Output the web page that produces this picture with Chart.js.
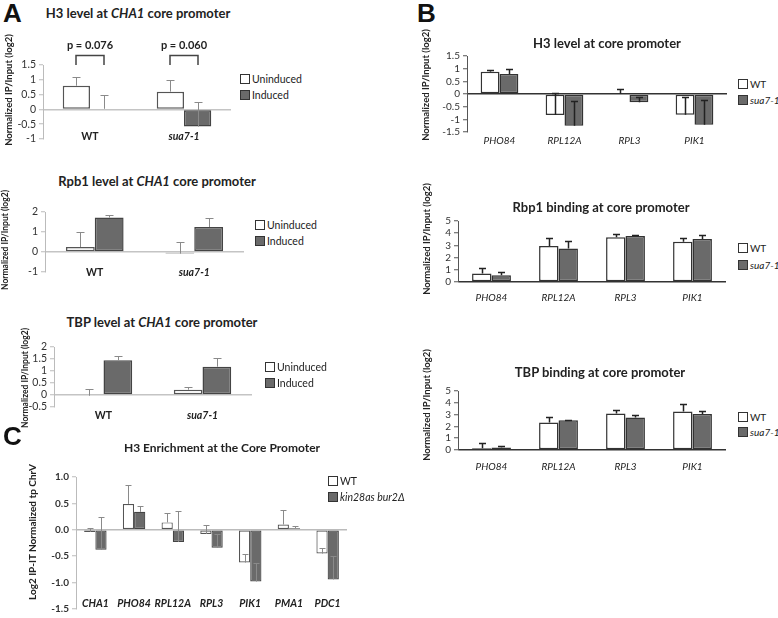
<!DOCTYPE html>
<html>
<head>
<meta charset="utf-8">
<script src="https://cdn.jsdelivr.net/npm/chart.js@4.4.1/dist/chart.umd.min.js"></script>
<style>
  body { margin: 0; background: #fff; }
  #fig { position: relative; width: 778px; height: 618px; overflow: hidden; font-family: Lato, 'Open Sans', sans-serif; color: #222; }
  #fig canvas { position: absolute; }
  .txt { position: absolute; white-space: nowrap; }
  .letter { font: bold 26px 'Liberation Sans', Arial, sans-serif; color: #111; }
  .ttl { font-weight: bold; font-size: 13px; transform: translate(-50%, -50%); }
  .ytl { font-weight: bold; font-size: 9.5px; transform: translate(-50%, -50%) rotate(-90deg); }
  .leg { font-size: 10.5px; transform: translateY(-50%); display: flex; align-items: center; }
  .leg .box { display: inline-block; width: 8px; height: 8px; border: 1px solid #333; margin-right: 2px; }
</style>
</head>
<body>
<div id="fig"></div>
<script>
// ---- panel A : CHA1 core promoter, uninduced vs induced ----
const strains = ['WT', 'sua7-1'];
const inductionNames = ['Uninduced', 'Induced'];

const h3ChaUninduced = [0.80, 0.60];
const h3ChaUninducedErr = [0.28, 0.40];
const h3ChaInduced = [0.02, -0.58];
const h3ChaInducedErr = [0.48, 0.83];
const h3ChaPvalues = ['p = 0.076', 'p = 0.060'];

const rpb1ChaUninduced = [0.25, -0.08];
const rpb1ChaUninducedErr = [0.75, 0.58];
const rpb1ChaInduced = [1.72, 1.25];
const rpb1ChaInducedErr = [0.12, 0.45];

const tbpChaUninduced = [-0.03, 0.22];
const tbpChaUninducedErr = [0.28, 0.10];
const tbpChaInduced = [1.45, 1.18];
const tbpChaInducedErr = [0.17, 0.37];

// ---- panel B : core promoters, WT vs sua7-1 ----
const genesB = ['PHO84', 'RPL12A', 'RPL3', 'PIK1'];
const strainNamesB = ['WT', 'sua7-1'];

const h3CoreWT = [0.88, -0.83, 0.01, -0.82];
const h3CoreWTErr = [0.06, 0.86, 0.17, 0.69];
const h3CoreSua = [0.79, -1.25, -0.33, -1.21];
const h3CoreSuaErr = [0.19, 0.99, 0.23, 0.99];

const rbp1CoreWT = [0.69, 2.95, 3.66, 3.30];
const rbp1CoreWTErr = [0.47, 0.69, 0.25, 0.28];
const rbp1CoreSua = [0.55, 2.75, 3.77, 3.52];
const rbp1CoreSuaErr = [0.28, 0.64, 0.09, 0.34];

const tbpCoreWT = [0.14, 2.33, 3.09, 3.26];
const tbpCoreWTErr = [0.42, 0.48, 0.34, 0.62];
const tbpCoreSua = [0.22, 2.53, 2.75, 3.06];
const tbpCoreSuaErr = [0.15, 0.05, 0.25, 0.25];

// ---- panel C : H3 enrichment, WT vs kin28as bur2 ----
const genesC = ['CHA1', 'PHO84', 'RPL12A', 'RPL3', 'PIK1', 'PMA1', 'PDC1'];
const strainNamesC = ['WT', 'kin28as bur2Δ'];
const h3EnrichWT = [-0.04, 0.49, 0.14, -0.08, -0.62, 0.10, -0.45];
const h3EnrichWTErr = [0.08, 0.36, 0.18, 0.17, 0.16, 0.27, 0.11];
const h3EnrichMut = [-0.38, 0.34, -0.23, -0.34, -0.98, 0.03, -0.94];
const h3EnrichMutErr = [0.63, 0.11, 0.58, 0.26, 0.35, 0.04, 0.45];

const fig = document.getElementById('fig');

function addText(x, y, html, cls) {
  const d = document.createElement('div');
  d.className = 'txt ' + cls;
  d.style.left = x + 'px';
  d.style.top = y + 'px';
  d.innerHTML = html;
  fig.appendChild(d);
  return d;
}

function addLegend(x, y, names, fill, gap, italic, size) {
  names.forEach((n, i) => {
    const d = addText(x, y + i * gap, '', 'leg');
    if (size) d.style.fontSize = size + 'px';
    const b = document.createElement('span');
    b.className = 'box';
    b.style.background = i === 0 ? '#fff' : fill;
    d.appendChild(b);
    const t = document.createElement('span');
    t.textContent = n;
    if (italic[i]) t.style.fontStyle = 'italic';
    d.appendChild(t);
  });
}

// plus-only error bars, like the Excel originals
const errorBars = {
  id: 'errorBars',
  afterDatasetsDraw(chart, args, opts) {
    const ctx = chart.ctx, y = chart.scales.y;
    ctx.save();
    ctx.strokeStyle = opts.color || '#333';
    ctx.lineWidth = opts.width || 1;
    chart.data.datasets.forEach((ds, i) => {
      chart.getDatasetMeta(i).data.forEach((bar, j) => {
        const v = ds.data[j], e = ds.errPlus[j];
        const x = Math.round(bar.x) + 0.5;
        const y0 = y.getPixelForValue(v), y1 = Math.round(y.getPixelForValue(v + e)) + 0.5;
        const c = (opts.cap || 6) / 2;
        ctx.beginPath();
        ctx.moveTo(x, y0);
        ctx.lineTo(x, y1);
        ctx.moveTo(x - c, y1);
        ctx.lineTo(x + c, y1);
        ctx.stroke();
      });
    });
    ctx.restore();
  }
};

// significance brackets between the two bars of a group
const pBrackets = {
  id: 'pBrackets',
  afterDatasetsDraw(chart, args, opts) {
    if (!opts.texts) return;
    const ctx = chart.ctx, y = chart.scales.y;
    const a = chart.getDatasetMeta(0).data, b = chart.getDatasetMeta(1).data;
    const leg = y.getPixelForValue(opts.level);
    const top = Math.round(leg - 10) + 0.5;
    ctx.save();
    ctx.strokeStyle = '#444';
    ctx.lineWidth = 1.5;
    ctx.fillStyle = '#222';
    ctx.font = 'bold 11px Lato, sans-serif';
    ctx.textAlign = 'center';
    ctx.textBaseline = 'middle';
    opts.texts.forEach((t, i) => {
      const x1 = Math.round(a[i].x), x2 = Math.round(b[i].x);
      ctx.beginPath();
      ctx.moveTo(x1, leg);
      ctx.lineTo(x1, top);
      ctx.lineTo(x2, top);
      ctx.lineTo(x2, leg);
      ctx.stroke();
      ctx.fillText(t, (x1 + x2) / 2, top - 10);
    });
    ctx.restore();
  }
};

Chart.register(errorBars, pBrackets);

function barPanel(o) {
  const [bx, by, bw, bh] = o.box;
  const [px0, py0, px1, py1] = o.plot;
  const L = o.look;
  const cv = document.createElement('canvas');
  cv.width = bw;
  cv.height = bh;
  cv.style.left = bx + 'px';
  cv.style.top = by + 'px';
  fig.appendChild(cv);
  const common = { borderWidth: L.bw, borderSkipped: false, categoryPercentage: L.cat, barPercentage: 1 };
  return new Chart(cv, {
    type: 'bar',
    data: {
      labels: o.labels,
      datasets: [
        Object.assign({ label: o.names[0], data: o.values[0], errPlus: o.errors[0], backgroundColor: '#ffffff', borderColor: L.edge0 }, common),
        Object.assign({ label: o.names[1], data: o.values[1], errPlus: o.errors[1], backgroundColor: L.fill1, borderColor: L.edge1 }, common)
      ]
    },
    options: {
      responsive: false,
      animation: false,
      devicePixelRatio: 1,
      layout: { padding: { left: 0, top: py0 - by, right: bx + bw - px1, bottom: 0 } },
      plugins: {
        legend: { display: false },
        tooltip: { enabled: false },
        errorBars: { color: L.err, width: L.errW, cap: L.cap },
        pBrackets: o.brackets || {}
      },
      scales: {
        x: {
          grid: { display: false, drawTicks: false },
          border: { display: false },
          ticks: {
            // labels that sit level with the bottom tick are drawn mirrored (inside the plot)
            mirror: !!o.xMirror,
            padding: o.xPad,
            color: '#222',
            font: o.xFont,
            maxRotation: 0,
            autoSkip: false
          },
          afterFit: s => { s.height = by + bh - py1; }
        },
        y: {
          min: o.yMin,
          max: o.yMax,
          ticks: {
            stepSize: o.step,
            autoSkip: false,
            padding: 3,
            color: '#333',
            font: L.yFont,
            callback: o.fmt || (v => String(+v.toFixed(2)))
          },
          grid: {
            color: c => Math.abs(c.tick.value) < 1e-9 ? L.zero : 'rgba(0,0,0,0)',
            lineWidth: L.zeroW,
            drawTicks: true,
            tickLength: 4,
            tickColor: L.axis,
            tickWidth: 1
          },
          border: { display: true, color: L.axis, width: 1 },
          afterFit: s => { s.width = px0 - bx; }
        }
      }
    }
  });
}

const lookA = {
  edge0: '#555', fill1: '#6a6a6a', edge1: '#444', bw: 1.5, cat: 0.58,
  axis: '#bbb', zero: '#c4c4c4', zeroW: 1.5,
  err: '#8a8a8a', errW: 1, cap: 8,
  yFont: { family: 'Lato', size: 10.5 }
};
const lookB = {
  edge0: '#333', fill1: '#6a6a6a', edge1: '#333', bw: 1.5, cat: 0.58,
  axis: '#555', zero: '#333', zeroW: 1.5,
  err: '#222', errW: 1.5, cap: 7,
  yFont: { family: 'Lato', size: 10 }
};
const lookC = {
  edge0: '#555', fill1: '#6a6a6a', edge1: '#444', bw: 1.2, cat: 0.58,
  axis: '#bbb', zero: '#bbb', zeroW: 1.5,
  err: '#8a8a8a', errW: 1, cap: 6,
  yFont: { family: 'Lato', size: 10, weight: 'bold' }
};

const fontA = c => ({ family: 'Lato', size: 10.5, weight: 'bold', style: c.index === 1 ? 'italic' : 'normal' });
const fontB = { family: 'Lato', size: 10, style: 'italic' };
const fontC = { family: 'Lato', size: 10.5, weight: 'bold', style: 'italic' };

// A1
barPanel({
  box: [0, 30, 240, 125], plot: [43, 65, 231, 139],
  labels: strains, names: inductionNames,
  values: [h3ChaUninduced, h3ChaInduced], errors: [h3ChaUninducedErr, h3ChaInducedErr],
  yMin: -1, yMax: 1.5, step: 0.5, look: lookA, xFont: fontA, xMirror: true, xPad: -4,
  brackets: { texts: h3ChaPvalues, level: 1.5 }
});
// A2
barPanel({
  box: [0, 195, 250, 90], plot: [45, 212, 244, 272],
  labels: strains, names: inductionNames,
  values: [rpb1ChaUninduced, rpb1ChaInduced], errors: [rpb1ChaUninducedErr, rpb1ChaInducedErr],
  yMin: -1, yMax: 2, step: 1, look: lookA, xFont: fontA, xMirror: true, xPad: -7
});
// A3
barPanel({
  box: [0, 330, 260, 95], plot: [54, 347, 252, 407],
  labels: strains, names: inductionNames,
  values: [tbpChaUninduced, tbpChaInduced], errors: [tbpChaUninducedErr, tbpChaInducedErr],
  yMin: -0.5, yMax: 2, step: 0.5, look: lookA, xFont: fontA, xPad: 2
});
// B1
barPanel({
  box: [400, 30, 335, 120], plot: [467, 56, 727, 132],
  labels: genesB, names: strainNamesB,
  values: [h3CoreWT, h3CoreSua], errors: [h3CoreWTErr, h3CoreSuaErr],
  yMin: -1.5, yMax: 1.5, step: 0.5, look: lookB, xFont: fontB, xPad: 3
});
// B2
barPanel({
  box: [400, 200, 335, 110], plot: [458, 221, 726, 282],
  labels: genesB, names: strainNamesB,
  values: [rbp1CoreWT, rbp1CoreSua], errors: [rbp1CoreWTErr, rbp1CoreSuaErr],
  yMin: 0, yMax: 5, step: 1, look: lookB, xFont: fontB, xPad: 10
});
// B3
barPanel({
  box: [400, 370, 335, 105], plot: [458, 391, 726, 450],
  labels: genesB, names: strainNamesB,
  values: [tbpCoreWT, tbpCoreSua], errors: [tbpCoreWTErr, tbpCoreSuaErr],
  yMin: 0, yMax: 5, step: 1, look: lookB, xFont: fontB, xPad: 11
});
// C
barPanel({
  box: [0, 460, 352, 158], plot: [76, 477, 347, 612],
  labels: genesC, names: strainNamesC,
  values: [h3EnrichWT, h3EnrichMut], errors: [h3EnrichWTErr, h3EnrichMutErr],
  yMin: -1.5, yMax: 1, step: 0.5, look: lookC, xFont: fontC, xMirror: true, xPad: -1,
  fmt: v => v.toFixed(1)
});

// panel letters
addText(3, -2, 'A', 'letter');
addText(417, -2, 'B', 'letter');
addText(3, 421, 'C', 'letter');

// chart titles
addText(138, 13, 'H3 level at <i>CHA1</i> core promoter', 'ttl');
addText(157, 181, 'Rpb1 level at <i>CHA1</i> core promoter', 'ttl');
addText(162, 322, 'TBP level at <i>CHA1</i> core promoter', 'ttl');
addText(607, 43, 'H3 level at core promoter', 'ttl');
addText(601, 207, 'Rbp1 binding at core promoter', 'ttl');
addText(600, 372, 'TBP binding at core promoter', 'ttl');
addText(222, 447, 'H3 Enrichment at the Core Promoter', 'ttl').style.fontSize = '12px';

// y axis titles
const yTitle = 'Normalized IP/Input (log2)';
addText(8, 90, yTitle, 'ytl');
addText(5, 240, yTitle, 'ytl').style.fontSize = '8.5px';
addText(25, 378, yTitle, 'ytl').style.fontSize = '8.5px';
addText(425, 85, yTitle, 'ytl');
addText(426, 239, yTitle, 'ytl');
addText(426, 405, yTitle, 'ytl');
addText(32, 532, 'Log2 IP-IT Normalized tp ChrV', 'ytl').style.fontSize = '10px';

// legends
addLegend(240, 79, inductionNames, '#6a6a6a', 16, [false, false]);
addLegend(255, 225, inductionNames, '#6a6a6a', 16, [false, false]);
addLegend(265, 367, inductionNames, '#6a6a6a', 16, [false, false]);
addLegend(738, 84, strainNamesB, '#6a6a6a', 16, [false, true], 10);
addLegend(738, 248, strainNamesB, '#6a6a6a', 17, [false, true], 10);
addLegend(738, 417, strainNamesB, '#6a6a6a', 15, [false, true], 10);
addLegend(328, 481, strainNamesC, '#6a6a6a', 16, [false, true]);
</script>
</body>
</html>
